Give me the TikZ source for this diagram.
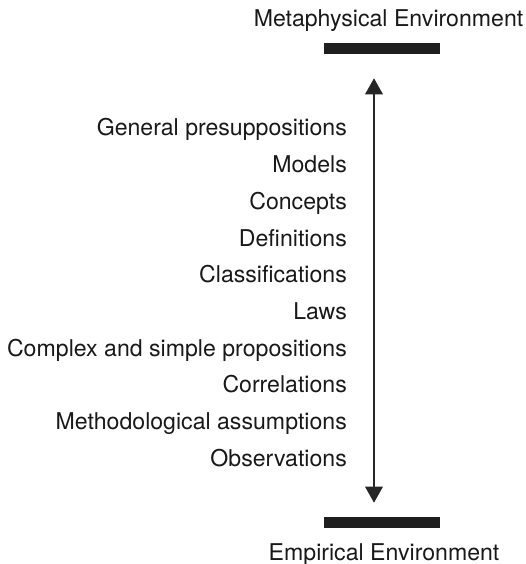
\documentclass[tikz,border=0pt]{standalone}
\usepackage{fontspec}
\setmainfont{TeX Gyre Heros}
\usetikzlibrary{arrows.meta}
\tikzset{
  lbl/.style={anchor=base east, inner sep=0pt, font=\fontsize{23.1}{27}\selectfont, text=black!90},
  env/.style={anchor=base, inner sep=0pt, font=\fontsize{23.1}{27}\selectfont, text=black!90},
  bar/.style={fill=black!88, draw=none},
  axis/.style={line width=1.5pt, draw=black!85, {Triangle[width=17.6pt,length=16pt]}-{Triangle[width=17.6pt,length=16pt]}}
}
\begin{document}
\begin{tikzpicture}[x=1pt,y=-1pt]
\useasboundingbox (0,0) rectangle (525,564);
\node[env] (meta) at (388.5,26.5) {Metaphysical Environment};
\fill[bar] (324,43) rectangle (440,54);
\node[env] (emp) at (384,560) {Empirical Environment};
\fill[bar] (324,517) rectangle (440,528);
\coordinate (top) at (374,78.3);
\coordinate (bot) at (374,502.7);
\draw[axis] (top) -- (bot);
\foreach \t [count=\i from 0] in {General presuppositions,Models,Concepts,Definitions,Classifications,Laws,Complex and simple propositions,Correlations,Methodological assumptions,Observations}{
  \node[lbl] (l\i) at (347,136+36.7*\i) {\t};
}
\end{tikzpicture}
\end{document}
